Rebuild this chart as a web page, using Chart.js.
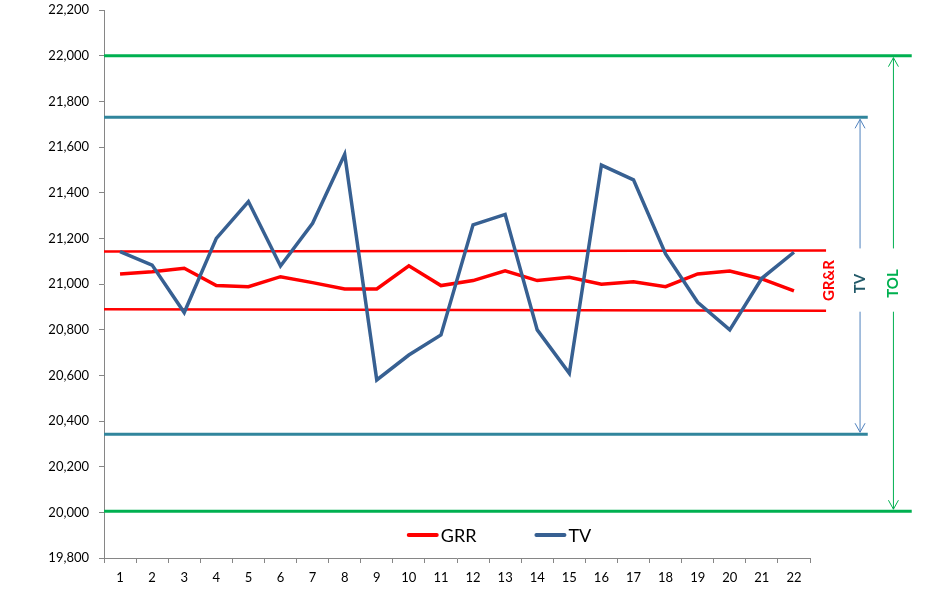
<!DOCTYPE html>
<html>
<head>
<meta charset="utf-8">
<script src="https://cdn.jsdelivr.net/npm/chart.js@4.4.0/dist/chart.umd.min.js"></script>
<style>
  html, body { margin: 0; padding: 0; background: #fff; }
</style>
</head>
<body>
<canvas id="chart" width="941" height="594"></canvas>
<script>
// Parts 1..22
const parts = ['1','2','3','4','5','6','7','8','9','10','11','12','13','14','15','16','17','18','19','20','21','22'];

// Measured series
const grrValues = [21044, 21054, 21069, 20993, 20988, 21032, 21006, 20978, 20978, 21080, 20993,
                   21015, 21058, 21015, 21029, 20999, 21010, 20988, 21044, 21057, 21022, 20970];
const tvValues  = [21142, 21083, 20875, 21200, 21361, 21079, 21266, 21568, 20580, 20689, 20777,
                   21259, 21305, 20799, 20609, 21521, 21456, 21132, 20920, 20799, 21025, 21139];

// Limit lines (value at left end, value at right end)
const grrUpper = [21142, 21147];
const grrLower = [20889, 20883];
const tvUpper  = [21730, 21730];
const tvLower  = [20342, 20342];
const tolUpper = [22000, 22000];
const tolLower = [20005, 20005];

// y axis ticks
const yMin = 19800;
const yMax = 22200;
const yStep = 200;

// Where the limit lines / arrows sit, in part units on the hidden linear axis
const lineStart = 0.5;
const grrEnd = 23.0;
const tvEnd = 24.3;
const tolEnd = 25.67;
const grrLabelAt = 23.1;
const tvArrowAt = 24.06;
const tolArrowAt = 25.1;

const FONT = 'Lato, "Open Sans", sans-serif';
const RED = '#FF0000';
const BLUE = '#376092';
const TEAL = '#31859C';
const GREEN = '#00B050';
const AXIS = '#868686';

function limitLine(vals, end, color, width) {
    return {
        type: 'line',
        xAxisID: 'x2',
        data: [{x: lineStart, y: vals[0]}, {x: end, y: vals[1]}],
        borderColor: color,
        borderWidth: width,
        pointRadius: 0,
        clip: false,
        isLimit: true
    };
}

function arrowHead(ctx, x, y, dir) {
    // dir = 1 points up, -1 points down
    ctx.beginPath();
    ctx.moveTo(x - 5, y + dir * 9);
    ctx.lineTo(x, y);
    ctx.lineTo(x + 5, y + dir * 9);
    ctx.stroke();
}

function splitArrow(ctx, x, top, bottom, gapTop, gapBottom, color) {
    ctx.save();
    ctx.strokeStyle = color;
    ctx.lineWidth = 1;
    ctx.beginPath();
    ctx.moveTo(x, top + 2);
    ctx.lineTo(x, gapTop);
    ctx.moveTo(x, gapBottom);
    ctx.lineTo(x, bottom - 2);
    ctx.stroke();
    arrowHead(ctx, x, top + 2, 1);
    arrowHead(ctx, x, bottom - 2, -1);
    ctx.restore();
}

function verticalText(ctx, text, x, y, color) {
    ctx.save();
    ctx.translate(x, y);
    ctx.rotate(-Math.PI / 2);
    ctx.fillStyle = color;
    ctx.font = 'bold 15px ' + FONT;
    ctx.textAlign = 'center';
    ctx.textBaseline = 'middle';
    ctx.fillText(text, 0, 0);
    ctx.restore();
}

// Arrows, rotated labels and the legend inside the plot
const annotations = {
    id: 'annotations',
    afterDatasetsDraw(chart) {
        const ctx = chart.ctx;
        const xs = chart.scales.x2;
        const ys = chart.scales.y;
        const bandTop = ys.getPixelForValue(grrUpper[1]);
        const bandBottom = ys.getPixelForValue(grrLower[1]);
        const mid = ys.getPixelForValue((grrUpper[1] + grrLower[1]) / 2);

        splitArrow(ctx, xs.getPixelForValue(tvArrowAt), ys.getPixelForValue(tvUpper[1]),
                   ys.getPixelForValue(tvLower[1]), bandTop - 2, bandBottom + 1, '#4F81BD');
        splitArrow(ctx, xs.getPixelForValue(tolArrowAt), ys.getPixelForValue(tolUpper[1]),
                   ys.getPixelForValue(tolLower[1]), bandTop - 2, bandBottom + 1, GREEN);

        verticalText(ctx, 'GR&R', xs.getPixelForValue(grrLabelAt), mid, RED);
        verticalText(ctx, 'TV', xs.getPixelForValue(tvArrowAt), mid + 3, '#215968');
        verticalText(ctx, 'TOL', xs.getPixelForValue(tolArrowAt), mid + 3, GREEN);

        // legend
        const items = chart.data.datasets.filter(d => !d.isLimit).reverse();
        ctx.save();
        ctx.font = '18px ' + FONT;
        ctx.textBaseline = 'middle';
        const sample = 32, gap = 2, spacing = 58;
        let total = 0;
        items.forEach((d, i) => {
            total += sample + gap + ctx.measureText(d.label).width + (i < items.length - 1 ? spacing : 0);
        });
        const area = chart.chartArea;
        let x = (area.left + area.right) / 2 + 42 - total / 2;
        const y = area.bottom - 23;
        items.forEach(d => {
            ctx.strokeStyle = d.borderColor;
            ctx.lineWidth = 4;
            ctx.lineCap = 'round';
            ctx.beginPath();
            ctx.moveTo(x + 2, y);
            ctx.lineTo(x + sample - 2, y);
            ctx.stroke();
            x += sample + gap;
            ctx.fillStyle = '#000';
            ctx.fillText(d.label, x, y + 1);
            x += ctx.measureText(d.label).width + spacing;
        });
        ctx.restore();
    }
};

const ctx = document.getElementById('chart').getContext('2d');
const chart = new Chart(ctx, {
    type: 'line',
    data: {
        labels: parts,
        datasets: [
            {
                label: 'TV',
                data: tvValues,
                borderColor: BLUE,
                borderWidth: 3.5,
                pointRadius: 0,
                tension: 0
            },
            {
                label: 'GRR',
                data: grrValues,
                borderColor: RED,
                borderWidth: 3.5,
                pointRadius: 0,
                tension: 0
            },
            limitLine(grrUpper, grrEnd, RED, 2.5),
            limitLine(grrLower, grrEnd, RED, 2.5),
            limitLine(tvUpper, tvEnd, TEAL, 3),
            limitLine(tvLower, tvEnd, TEAL, 3),
            limitLine(tolUpper, tolEnd, GREEN, 3),
            limitLine(tolLower, tolEnd, GREEN, 3)
        ]
    },
    options: {
        responsive: false,
        animation: false,
        locale: 'en-US',
        layout: {
            padding: { top: 10, right: 131, bottom: 0, left: 0 }
        },
        plugins: {
            legend: { display: false },
            tooltip: { enabled: false }
        },
        scales: {
            x: {
                type: 'category',
                offset: true,
                grid: {
                    offset: true,
                    drawOnChartArea: false,
                    tickLength: 5,
                    color: AXIS
                },
                border: { color: AXIS },
                ticks: {
                    color: '#000',
                    font: { family: FONT, size: 13 },
                    padding: 7,
                    maxRotation: 0,
                    autoSkip: false
                },
                afterFit(scale) { scale.height = 36; }
            },
            x2: {
                type: 'linear',
                display: false,
                min: 0.5,
                max: 22.5
            },
            y: {
                min: yMin,
                max: yMax,
                grid: {
                    drawOnChartArea: false,
                    tickLength: 5,
                    color: AXIS
                },
                border: { color: AXIS },
                ticks: {
                    stepSize: yStep,
                    color: '#000',
                    font: { family: FONT, size: 13 },
                    padding: 10
                },
                afterFit(scale) {
                    scale.width = 104;
                    scale.paddingTop = 0;
                    scale.paddingBottom = 0;
                }
            }
        }
    },
    plugins: [annotations]
});
</script>
</body>
</html>
